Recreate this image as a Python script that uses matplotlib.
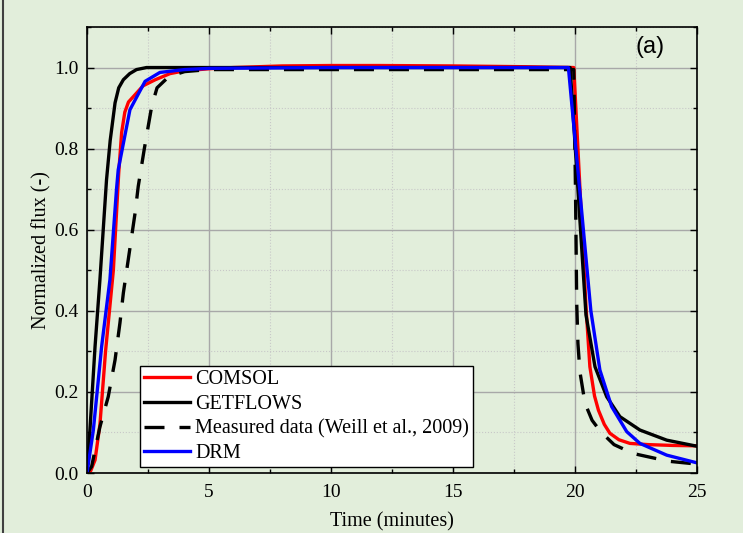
import matplotlib
matplotlib.use("Agg")
import matplotlib.pyplot as plt
from matplotlib.ticker import MultipleLocator
from matplotlib.lines import Line2D

# --- data (time in minutes, normalized flux) ---
comsol_t = [0, 0.15, 0.33, 0.53, 0.76, 1.08, 1.3, 1.42, 1.55, 1.7, 2.0, 2.3, 2.8, 3.4, 4.0,
            5.0, 6.0, 8.0, 10.0, 12.0, 15.0, 18.0, 19.95, 20.45, 20.61, 20.8, 20.96, 21.2,
            21.43, 21.8, 22.25, 23.0, 24.0, 25.0]
comsol_y = [0, 0.005, 0.032, 0.12, 0.3, 0.5, 0.74, 0.84, 0.89, 0.915, 0.935, 0.955, 0.97,
            0.985, 0.992, 0.997, 1.0, 1.004, 1.005, 1.005, 1.004, 1.002, 1.0, 0.41, 0.262,
            0.19, 0.155, 0.12, 0.098, 0.082, 0.073, 0.07, 0.068, 0.067]

getflows_t = [0, 0.12, 0.33, 0.53, 0.8, 0.95, 1.15, 1.3, 1.49, 1.75, 2.03, 2.44, 5.0, 10.0,
              15.0, 19.8, 20.45, 20.82, 21.3, 21.84, 22.66, 23.76, 25.0]
getflows_y = [0, 0.106, 0.312, 0.477, 0.723, 0.82, 0.913, 0.95, 0.97, 0.985, 0.995, 1.0,
              1.0, 1.0, 1.0, 1.0, 0.39, 0.262, 0.188, 0.139, 0.106, 0.081, 0.066]

measured_t = [0, 0.19, 0.53, 0.87, 1.15, 1.35, 1.49, 1.69, 1.97, 2.1, 2.35, 2.65, 2.87, 3.36,
              4.0, 5.0, 10.0, 15.0, 19.95, 20.02, 20.07, 20.12, 20.2, 20.41, 20.7, 21.05,
              21.6, 22.39, 23.83, 25.0]
measured_y = [0, 0.016, 0.114, 0.188, 0.279, 0.37, 0.444, 0.526, 0.641, 0.707, 0.8, 0.904,
              0.95, 0.978, 0.99, 0.995, 0.995, 0.995, 0.995, 0.7, 0.42, 0.32, 0.25, 0.172,
              0.13, 0.102, 0.07, 0.048, 0.029, 0.022]

drm_t = [0, 0.26, 0.6, 0.94, 1.21, 1.28, 1.76, 2.38, 2.99, 4.0, 5.0, 10.0, 19.73, 20.65,
         21.02, 21.5, 22.12, 22.66, 23.76, 25.0]
drm_y = [0, 0.106, 0.312, 0.477, 0.7, 0.748, 0.896, 0.966, 0.988, 0.995, 0.998, 1.0, 1.0,
         0.4, 0.254, 0.164, 0.102, 0.073, 0.044, 0.025]

BG = '#e2eedb'
SERIF = 'Liberation Serif'

fig = plt.figure(figsize=(7.43, 5.33), dpi=100, facecolor=BG)
ax = fig.add_axes([87 / 743, 60 / 533, 610 / 743, 446 / 533])
ax.set_facecolor(BG)

lw = 2.4
ax.plot(comsol_t, comsol_y, color='#ff0000', lw=lw, label='COMSOL')
ax.plot(getflows_t, getflows_y, color='black', lw=lw, label='GETFLOWS')
ax.plot(measured_t, measured_y, color='black', lw=lw, dashes=(6, 4.5),
        label='Measured data (Weill et al., 2009)')
ax.plot(drm_t, drm_y, color='#0000ff', lw=lw, label='DRM')

ax.set_xlim(0, 25)
ax.set_ylim(0, 1.1)
ax.xaxis.set_major_locator(MultipleLocator(5))
ax.xaxis.set_minor_locator(MultipleLocator(2.5))
ax.yaxis.set_major_locator(MultipleLocator(0.2))
ax.yaxis.set_minor_locator(MultipleLocator(0.1))
ax.set_yticks([0, 0.2, 0.4, 0.6, 0.8, 1.0])
ax.set_yticklabels(['0.0', '0.2', '0.4', '0.6', '0.8', '1.0'])

ax.grid(True, which='major', color='#a8a8a8', lw=1.0, ls='-')
ax.grid(True, which='minor', color='#c8c8c8', lw=0.8, ls=':')
ax.set_axisbelow(True)

ax.tick_params(which='both', direction='in', top=True, right=True, width=1.0)
ax.tick_params(which='major', length=5, labelsize=14)
ax.tick_params(axis='x', which='major', pad=8)
ax.tick_params(axis='y', which='major', pad=6)
ax.tick_params(which='minor', length=3)
for lab in ax.get_xticklabels() + ax.get_yticklabels():
    lab.set_family(SERIF)
for s in ax.spines.values():
    s.set_linewidth(1.2)

ax.set_xlabel('Time (minutes)', family=SERIF, fontsize=14.5, labelpad=8)
ax.set_ylabel('Normalized flux (-)', family=SERIF, fontsize=14.5, labelpad=2)

ax.text(0.923, 0.955, '(a)', transform=ax.transAxes, ha='center', va='center',
        family='Liberation Sans', fontsize=17)

leg = ax.legend(loc='lower left', bbox_to_anchor=(0.087, 0.013), borderaxespad=0,
                prop={'family': SERIF, 'size': 14.5}, frameon=True, fancybox=False,
                handlelength=2.3, handletextpad=0.25, labelspacing=0.27, borderpad=0.2)
leg.get_frame().set_edgecolor('black')
leg.get_frame().set_linewidth(1.0)
leg.get_frame().set_alpha(1)

# thin dark frame line at the left edge of the figure
fig.add_artist(Line2D([3 / 743, 3 / 743], [0, 1], transform=fig.transFigure,
                      color='#404040', lw=1.5))

fig.savefig('out.png', dpi=100, facecolor=BG)
